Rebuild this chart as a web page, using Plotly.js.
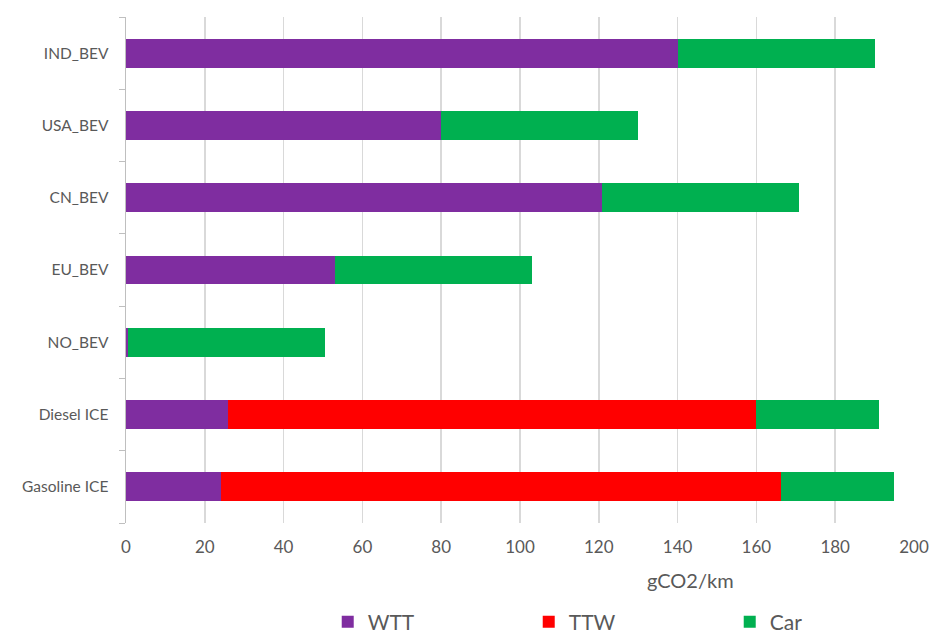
<!DOCTYPE html>
<html>
<head>
<meta charset="utf-8">
<script src="https://cdn.plot.ly/plotly-3.0.1.min.js"></script>
<style>html,body{margin:0;padding:0;background:#fff;}#chart{width:937px;height:633px;}</style>
</head>
<body>
<div id="chart"></div>
<script>
const categories = ["Gasoline ICE", "Diesel ICE", "NO_BEV", "EU_BEV", "CN_BEV", "USA_BEV", "IND_BEV"];
const wtt = [24, 26, 0.5, 53, 120.7, 80, 140];
const ttw = [142.3, 134, 0, 0, 0, 0, 0];
const car = [28.5, 31, 50, 50, 50, 50, 50];
const xTicks = [0, 20, 40, 60, 80, 100, 120, 140, 160, 180, 200];

const font = "Lato, 'Open Sans', sans-serif";
function tr(name, vals, color) {
  return {type: "bar", orientation: "h", name: name, y: categories, x: vals,
    marker: {color: color, line: {width: 0}}, hoverinfo: "x+name"};
}
const data = [
  tr("WTT", wtt, "#7F2DA0"),
  tr("TTW", ttw, "#FF0000"),
  tr("Car", car, "#00B050")
];
const layout = {
  width: 937, height: 633,
  margin: {l: 126, r: 23, t: 17, b: 110, autoexpand: false},
  barmode: "stack", bargap: 0.6,
  paper_bgcolor: "#fff", plot_bgcolor: "#fff",
  font: {family: font, color: "#595959"},
  xaxis: {range: [0, 200], tickvals: xTicks, ticktext: xTicks.map(String),
    showgrid: true, gridcolor: "#d9d9d9", gridwidth: 1.5, zeroline: false,
    showline: false, ticks: "", tickfont: {size: 17, color: "#595959"}, fixedrange: true,
    automargin: false, ticklabelstandoff: 12},
  yaxis: {type: "category", showline: true, linecolor: "#bfbfbf", linewidth: 1.5,
    ticks: "outside", tickson: "boundaries", ticklen: 6, tickcolor: "#bfbfbf",
    showgrid: false, tickfont: {size: 15.5, color: "#595959"}, ticklabelstandoff: 13,
    automargin: false},
  showlegend: true,
  legend: {orientation: "h", x: 0.256, xanchor: "left", y: -0.196, yanchor: "middle",
    font: {size: 21, color: "#595959"}, entrywidth: 156, entrywidthmode: "pixels",
    traceorder: "normal", itemwidth: 30},
  annotations: [{text: "gCO2/km", xref: "paper", yref: "paper", x: 0.716, y: -0.112,
    xanchor: "center", yanchor: "middle", showarrow: false,
    font: {size: 20, color: "#595959", family: font}}]
};
Plotly.newPlot("chart", data, layout, {displayModeBar: false, staticPlot: true});
</script>
</body>
</html>
